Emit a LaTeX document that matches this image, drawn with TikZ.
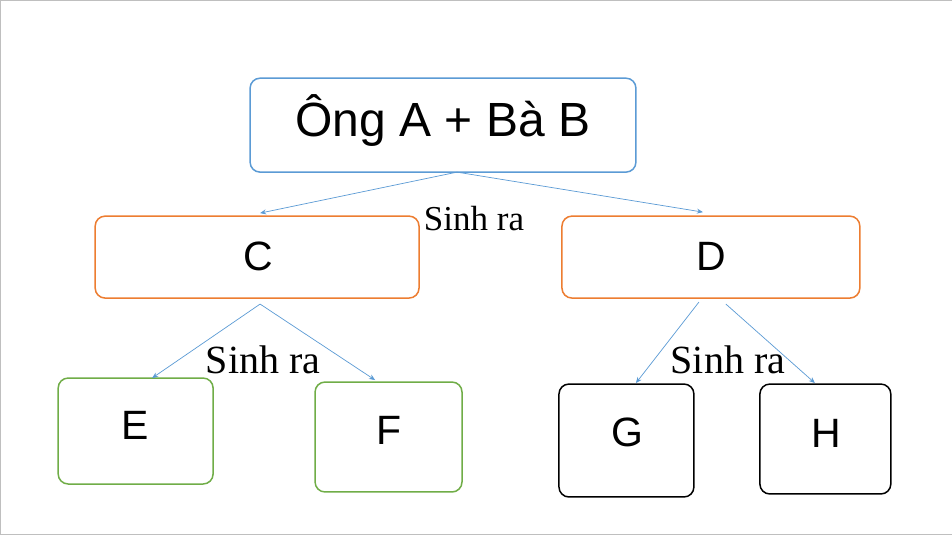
\documentclass[tikz,border=0pt]{standalone}
\usepackage{fontspec}
\setmainfont{Liberation Serif}
\newfontfamily\boxfont{Liberation Sans}
\usetikzlibrary{arrows.meta}
\definecolor{bblue}{HTML}{5B9BD5}
\definecolor{borange}{HTML}{ED7D31}
\definecolor{bgreen}{HTML}{70AD47}
\begin{document}
\begin{tikzpicture}[x=1pt,y=-1pt,
  bx/.style={draw,rounded corners=10pt,line width=1.5pt},
  tx/.style={font=\boxfont\fontsize{41}{41}\selectfont},
  ar/.style={draw=bblue,line width=0.7pt,-{Stealth[length=6pt,width=5pt]}},
  lb/.style={font=\fontsize{40}{40}\selectfont}]
\draw[gray!50,fill=white] (0,0) rectangle (952,534);
\useasboundingbox (0,0) rectangle (952,534);
\draw[bx,bblue] (250,78) rectangle (636,172);
\node[tx,font=\boxfont\fontsize{48}{48}\selectfont] (top) at (443,120) {Ông A + Bà B};
\draw[bx,borange] (95,216) rectangle (419,298);
\node[tx] (c) at (258,256) {C};
\draw[bx,borange] (562,216) rectangle (860,298);
\node[tx] (d) at (711,256) {D};
\draw[bx,bgreen] (58,378) rectangle (213,484);
\node[tx] (e) at (135,425) {E};
\draw[bx,bgreen] (315,382) rectangle (462,492);
\node[tx] (f) at (389,430) {F};
\draw[bx,black] (559,384) rectangle (694,497);
\node[tx] (g) at (627,432) {G};
\draw[bx,black] (760,384) rectangle (891,494);
\node[tx] (h) at (826,433) {H};
\coordinate (t0) at (457,172);
\coordinate (c1) at (260,213);
\coordinate (d1) at (703,212);
\coordinate (c0) at (260,304);
\coordinate (e1) at (152,378);
\coordinate (f1) at (375,380);
\coordinate (d0) at (699,302);
\coordinate (d2) at (726,304);
\coordinate (g1) at (636,383);
\coordinate (h1) at (815,383);
\draw[ar] (t0) -- (c1);
\draw[ar] (t0) -- (d1);
\draw[ar] (c0) -- (e1);
\draw[ar] (c0) -- (f1);
\draw[ar] (d0) -- (g1);
\draw[ar] (d2) -- (h1);
\node[lb,font=\fontsize{35}{35}\selectfont] (l1) at (474,218) {Sinh ra};
\node[lb] (l2) at (263,360) {Sinh ra};
\node[lb] (l3) at (728,360) {Sinh ra};
\end{tikzpicture}
\end{document}
